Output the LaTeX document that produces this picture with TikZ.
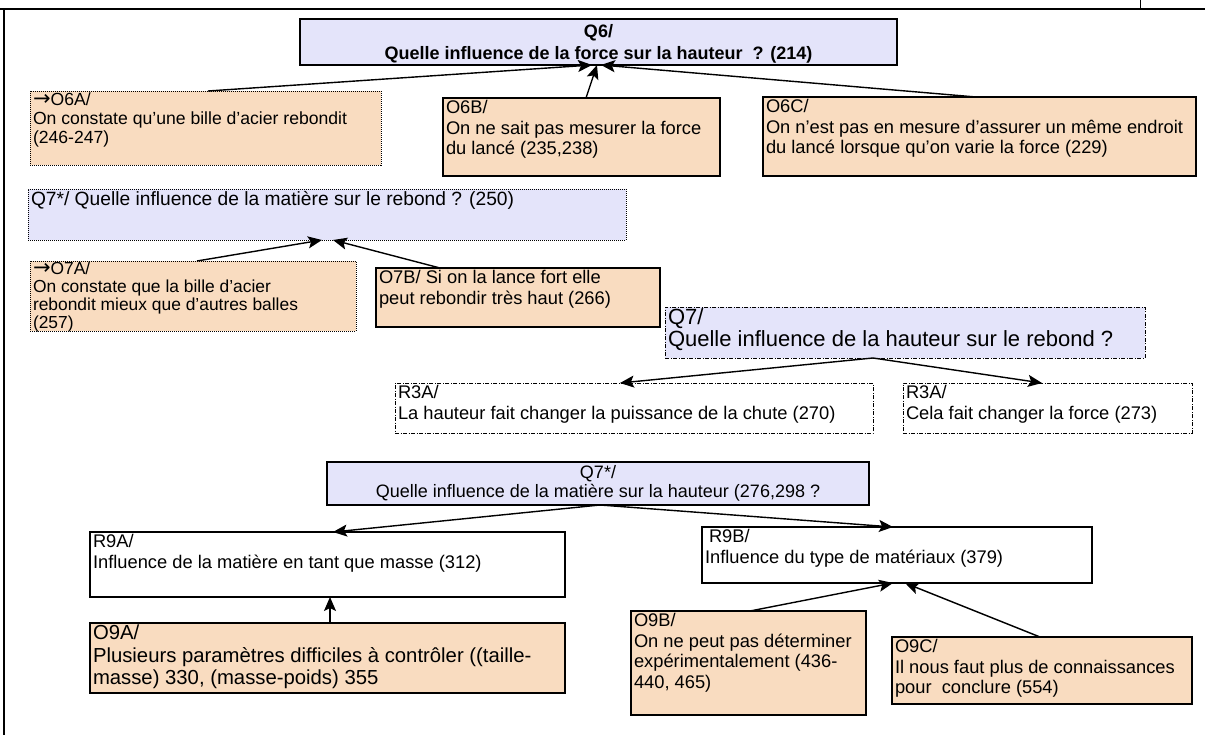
\documentclass[tikz,border=0pt]{standalone}
\usepackage{fontspec}
\setmainfont{Liberation Sans}
\newfontfamily\arrowfont{DejaVu Sans}
\usetikzlibrary{arrows.meta,calc}
\definecolor{qfill}{RGB}{228,228,250}
\definecolor{ofill}{RGB}{249,220,192}
\newcommand{\tbox}[7]{\node[#1] (#2) at (#3,#4) {\parbox[c][\dimexpr #6pt-4pt\relax][t]{\dimexpr #5pt-6pt\relax}{\raggedright #7}};}
\newcommand{\cbox}[7]{\node[#1] (#2) at (#3,#4) {\parbox[c][\dimexpr #6pt-4pt\relax][c]{\dimexpr #5pt-6pt\relax}{\centering #7}};}
\newcommand{\rarr}{{\arrowfont\fontsize{21}{17}\selectfont →}}
\begin{document}
\begin{tikzpicture}[x=1pt,y=-1pt,
  base/.style={anchor=north west, inner xsep=3pt, inner ysep=2pt, outer sep=0pt, draw=black, line width=1.1pt, font=\fontsize{18.3}{20.8}\selectfont},
  solidb/.style={base},
  dotb/.style={base, line width=0.9pt, dash pattern=on 1pt off 1pt},
  dashdotb/.style={base, line width=0.9pt, dash pattern=on 4pt off 1.5pt on 1pt off 1.5pt},
  qbox/.style={fill=qfill},
  obox/.style={fill=ofill},
  wbox/.style={fill=white},
  arr/.style={line width=1.4pt, -{Stealth[length=14pt,width=12pt,inset=3pt]}},
  frame/.style={line width=2pt}
]
\useasboundingbox (0,0) rectangle (1205,735);
% frame
\draw[frame] (0,9) -- (1205,9);
\draw[frame] (4,9) -- (4,735);
\draw[line width=1pt] (1140,0) -- (1140,9);

% Q6 group
\cbox{solidb,qbox,font=\fontsize{18}{22}\selectfont\bfseries}{q6}{300}{19}{597}{46}{\rule{0pt}{16pt}Q6/\\Quelle influence de la force sur la hauteur \ ? (214)}
\tbox{dotb,obox,font=\fontsize{17.6}{18.8}\selectfont}{o6a}{30}{91}{351}{74}{\rarr O6A/\\On constate qu’une bille d’acier rebondit\\(246-247)}
\tbox{solidb,obox}{o6b}{443}{98}{277}{78}{O6B/\\On ne sait pas mesurer la force\\du lancé (235,238)}
\tbox{solidb,obox}{o6c}{763}{97}{433}{79}{O6C/\\On n'est pas en mesure d'assurer un même endroit\\du lancé lorsque qu'on varie la force (229)}

% Q7* rebond group
\tbox{dotb,qbox,font=\fontsize{19.2}{23}\selectfont}{q7a}{28}{189}{598}{51}{Q7*/ Quelle influence de la matière sur le rebond ? (250)}
\tbox{dotb,obox,font=\fontsize{17.4}{17.8}\selectfont,inner ysep=1pt}{o7a}{30}{261}{326}{72}{\rarr O7A/\\On constate que la bille d’acier\\rebondit mieux que d’autres balles\\(257)}
\tbox{solidb,obox}{o7b}{376}{268}{284}{59}{O7B/ Si on la lance fort elle\\peut rebondir très haut (266)}

% Q7 hauteur group
\tbox{dashdotb,qbox,font=\fontsize{22}{22}\selectfont}{q7h}{665}{307}{480}{51}{Q7/\\Quelle influence de la hauteur sur le rebond ?}
\tbox{dashdotb,wbox}{r3al}{395}{383}{478}{50}{R3A/\\La hauteur fait changer la puissance de la chute (270)}
\tbox{dashdotb,wbox}{r3ar}{903}{383}{289}{50}{R3A/\\Cela fait changer la force (273)}

% Q7* hauteur group
\cbox{solidb,qbox,font=\fontsize{18}{19.5}\selectfont}{q7m}{327}{462}{542}{43}{Q7*/\\Quelle influence de la matière sur la hauteur (276,298 ?}
\tbox{solidb,wbox}{r9a}{90}{532}{475}{65}{R9A/\\Influence de la matière en tant que masse (312)}
\tbox{solidb,wbox}{r9b}{702}{527}{390}{56}{\hspace*{4pt}R9B/\\Influence du type de matériaux (379)}
\tbox{solidb,obox,font=\fontsize{20.3}{22.5}\selectfont}{o9a}{90}{623}{475}{70}{O9A/\\Plusieurs paramètres difficiles à contrôler ((taille-\\masse) 330, (masse-poids) 355}
\tbox{solidb,obox}{o9b}{631}{611}{235}{104}{O9B/\\On ne peut pas déterminer\\expérimentalement (436-\\440, 465)}
\tbox{solidb,obox}{o9c}{892}{637}{300}{67}{O9C/\\Il nous faut plus de connaissances\\pour\ \ conclure (554)}

% connectors
\draw[arr] ([xshift=178pt]o6a.north west) -- ([xshift=292pt]q6.south west);
\draw[arr] ([xshift=143pt]o6b.north west) -- ([xshift=297pt]q6.south west);
\draw[arr] ([xshift=213pt]o6c.north west) -- ([xshift=301pt]q6.south west);

\draw[arr] ([xshift=167pt]o7a.north west) -- ([xshift=294pt]q7a.south west);
\draw[arr] ([xshift=64pt]o7b.north west) -- ([xshift=305pt]q7a.south west);

\draw[arr] ([xshift=208pt]q7h.south west) -- ([xshift=225pt]r3al.north west);
\draw[arr] ([xshift=208pt]q7h.south west) -- ([xshift=139pt]r3ar.north west);

\draw[arr] ([xshift=273pt]q7m.south west) -- ([xshift=243pt]r9a.north west);
\draw[arr] ([xshift=273pt]q7m.south west) -- ([xshift=191pt]r9b.north west);

\draw[arr] ([xshift=240pt]o9a.north west) -- ([xshift=240pt]r9a.south west);
\draw[arr] ([xshift=119pt]o9b.north west) -- ([xshift=191pt]r9b.south west);
\draw[arr] ([xshift=148pt]o9c.north west) -- ([xshift=203pt]r9b.south west);
\end{tikzpicture}
\end{document}
